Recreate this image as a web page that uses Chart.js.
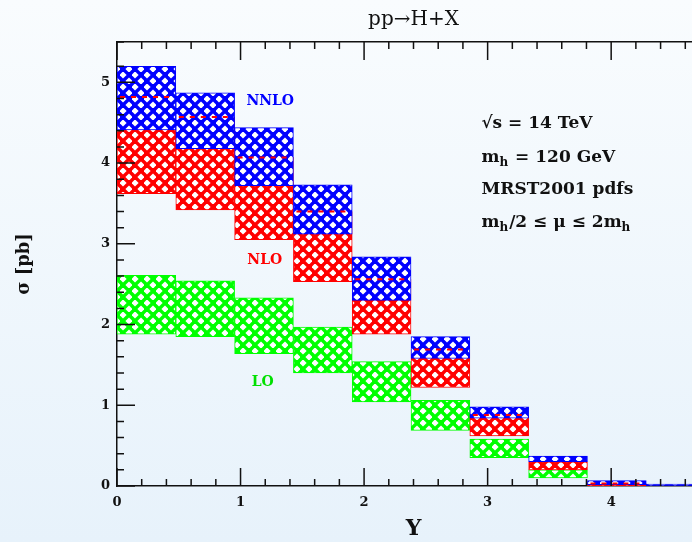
<!DOCTYPE html>
<html>
<head>
<meta charset="utf-8">
<script src="https://cdn.jsdelivr.net/npm/chart.js@4"></script>
<style>
  html, body { margin: 0; padding: 0; width: 692px; height: 542px; overflow: hidden;
    background: linear-gradient(to bottom, #f9fcfe 0%, #e7f2fb 100%); }
  #wrap { width: 720px; height: 542px; }
</style>
</head>
<body>
<div id="wrap"><canvas id="chart" width="720" height="542"></canvas></div>
<script>
// Y bins (centres), bin width ~0.476
const binCenters = [0.238, 0.714, 1.190, 1.666, 2.142, 2.618, 3.094, 3.570, 4.046, 4.522];

// sigma [pb] bands (scale variation mh/2 .. 2mh)
const loLow    = [1.88, 1.85, 1.64, 1.40, 1.04, 0.69, 0.35, 0.10, 0.000, null];
const loHigh   = [2.61, 2.54, 2.33, 1.97, 1.54, 1.06, 0.58, 0.20, 0.015, null];
const nloLow   = [3.62, 3.42, 3.05, 2.53, 1.88, 1.22, 0.62, 0.20, 0.000, null];
const nloHigh  = [4.82, 4.57, 4.07, 3.40, 2.56, 1.69, 0.88, 0.30, 0.030, null];
const nnloLow  = [4.41, 4.18, 3.72, 3.12, 2.30, 1.58, 0.84, 0.30, 0.016, 0.000];
const nnloHigh = [5.20, 4.87, 4.44, 3.73, 2.84, 1.85, 0.98, 0.37, 0.066, 0.005];

const xMax = 4.8;
const yMax = 5.5;

const titleText = 'pp\u2192H+X';
const xTitle = 'Y';
const yTitle = '\u03c3 [pb]';

const BLUE = '#0000ff', RED = '#ff0000', GREEN = '#00ff00';
const SERIF = "'DejaVu Serif', serif";

const isInt = v => Math.abs(v - Math.round(v)) < 1e-6;

// cross-hatch fill like the original plot
function hatch(color) {
  const c = document.createElement('canvas');
  c.width = 12; c.height = 12;
  const g = c.getContext('2d');
  g.fillStyle = color;
  g.fillRect(0, 0, 12, 12);
  g.fillStyle = '#ffffff';
  [[3, 3], [9, 9]].forEach(([x, y]) => {
    g.beginPath();
    g.moveTo(x, y - 3.6); g.lineTo(x + 3.6, y); g.lineTo(x, y + 3.6); g.lineTo(x - 3.6, y);
    g.closePath();
    g.fill();
  });
  return g.createPattern(c, 'repeat');
}

function band(lo, hi) {
  const out = [];
  binCenters.forEach((x, i) => {
    if (lo[i] !== null && hi[i] !== null) out.push({ x: x, y: [lo[i], hi[i]] });
  });
  return out;
}

const bandLabels = [
  { text: 'NNLO', x: 1.24, y: 4.77, color: BLUE },
  { text: 'NLO',  x: 1.196, y: 2.79, color: RED },
  { text: 'LO',   x: 1.18, y: 1.29, color: '#00e000' }
];

// info block; [text, isSubscript]
const infoX = 2.95;
const infoLines = [
  { y: 4.49, parts: [['\u221as = 14 TeV', false]] },
  { y: 4.07, parts: [['m', false], ['h', true], [' = 120 GeV', false]] },
  { y: 3.67, parts: [['MRST2001 pdfs', false]] },
  { y: 3.26, parts: [['m', false], ['h', true], ['/2 \u2264 \u03bc \u2264 2m', false], ['h', true]] }
];

// inward ticks on all four sides
const frameTicks = {
  id: 'frameTicks',
  afterDatasetsDraw(chart) {
    const { ctx, chartArea: a, scales } = chart;
    ctx.save();

    // NLO upper edge, hidden under the NNLO band -> dashed red
    const meta = chart.getDatasetMeta(1);
    ctx.strokeStyle = RED;
    ctx.lineWidth = 2;
    ctx.setLineDash([5, 6]);
    meta.data.forEach((bar, i) => {
      if (nloHigh[i] < nnloHigh[i] && nloHigh[i] > nnloLow[i]) {
        ctx.beginPath();
        ctx.moveTo(bar.x - bar.width / 2 + 3, bar.y);
        ctx.lineTo(bar.x + bar.width / 2 - 2, bar.y);
        ctx.stroke();
      }
    });
    ctx.setLineDash([]);

    ctx.strokeStyle = '#111';
    ctx.lineWidth = 1.5;
    ctx.beginPath();
    scales.xb.ticks.forEach(t => {
      const px = scales.xb.getPixelForValue(t.value);
      const len = isInt(t.value) ? 18 : 7;
      ctx.moveTo(px, a.bottom); ctx.lineTo(px, a.bottom - len);
      ctx.moveTo(px, a.top); ctx.lineTo(px, a.top + len);
    });
    scales.yl.ticks.forEach(t => {
      const py = scales.yl.getPixelForValue(t.value);
      const len = isInt(t.value) ? 18 : 7;
      ctx.moveTo(a.left, py); ctx.lineTo(a.left + len, py);
      ctx.moveTo(a.right, py); ctx.lineTo(a.right - len, py);
    });
    ctx.stroke();
    ctx.restore();
  },
  afterDraw(chart) {
    const { ctx, scales } = chart;
    ctx.save();
    ctx.textBaseline = 'middle';
    ctx.font = 'bold 14px ' + SERIF;
    ctx.textAlign = 'center';
    bandLabels.forEach(l => {
      ctx.fillStyle = l.color;
      ctx.fillText(l.text, scales.xb.getPixelForValue(l.x), scales.yl.getPixelForValue(l.y));
    });
    ctx.textAlign = 'left';
    ctx.fillStyle = '#111';
    infoLines.forEach(line => {
      let x = scales.xb.getPixelForValue(infoX);
      const y = scales.yl.getPixelForValue(line.y);
      line.parts.forEach(([txt, sub]) => {
        ctx.font = sub ? 'bold 12px ' + SERIF : 'bold 17px ' + SERIF;
        ctx.fillText(txt, x, sub ? y + 5 : y);
        x += ctx.measureText(txt).width + (sub ? 1 : 0);
      });
    });
    ctx.restore();
  }
};

const tickFont = { family: SERIF, weight: 'bold', size: 13 };
const borderOpt = { display: true, color: '#111', width: 1.5 };
const barStyle = {
  xAxisID: 'x', yAxisID: 'yl',
  grouped: false, barPercentage: 1, categoryPercentage: 1,
  borderWidth: 1, borderSkipped: false, minBarLength: 2
};

new Chart(document.getElementById('chart'), {
  type: 'bar',
  data: {
    datasets: [
      Object.assign({ label: 'NNLO', data: band(nnloLow, nnloHigh), backgroundColor: hatch(BLUE), borderColor: BLUE, order: 0 }, barStyle),
      Object.assign({ label: 'NLO', data: band(nloLow, nloHigh), backgroundColor: hatch(RED), borderColor: RED, order: 1 }, barStyle),
      Object.assign({ label: 'LO', data: band(loLow, loHigh), backgroundColor: hatch(GREEN), borderColor: GREEN, order: 2 }, barStyle)
    ]
  },
  options: {
    responsive: false,
    devicePixelRatio: 1,
    animation: false,
    plugins: { legend: { display: false }, tooltip: { enabled: false } },
    scales: {
      x: { type: 'linear', display: false, offset: false, min: 0, max: xMax, ticks: { stepSize: 100 }, grid: { offset: false } },
      xb: {
        type: 'linear', position: 'bottom', offset: false, min: 0, max: xMax, z: 1,
        ticks: { stepSize: 0.2, autoSkip: false, maxRotation: 0, padding: 9, font: tickFont, color: '#111',
                 callback: v => isInt(v) ? String(Math.round(v)) : '' },
        grid: { display: false, drawTicks: false, offset: false },
        border: borderOpt,
        title: { display: true, text: xTitle, color: '#111', font: { family: SERIF, weight: 'bold', size: 22 }, padding: { top: 0, bottom: 0 } },
        afterFit: s => { s.height = 56; }
      },
      xt: {
        type: 'linear', position: 'top', offset: false, min: 0, max: xMax, z: 1,
        ticks: { display: false },
        grid: { display: false, drawTicks: false, offset: false },
        border: borderOpt,
        title: { display: true, text: titleText, color: '#111', font: { family: SERIF, size: 20 }, padding: { top: 8, bottom: 0 } },
        afterFit: s => { s.height = 42; }
      },
      yl: {
        type: 'linear', position: 'left', min: 0, max: yMax, z: 1,
        ticks: { stepSize: 0.2, autoSkip: false, padding: 7, font: tickFont, color: '#111',
                 callback: v => isInt(v) ? String(Math.round(v)) : '' },
        grid: { display: false, drawTicks: false },
        border: borderOpt,
        title: { display: true, text: yTitle, color: '#111', font: { family: SERIF, weight: 'bold', size: 18 }, padding: { top: 14, bottom: 0 } },
        afterFit: s => { s.width = 117; }
      },
      yr: {
        type: 'linear', position: 'right', min: 0, max: yMax, z: 1,
        ticks: { display: false },
        grid: { display: false, drawTicks: false },
        border: borderOpt,
        afterFit: s => { s.width = 10; }
      }
    }
  },
  plugins: [frameTicks]
});
</script>
</body>
</html>
